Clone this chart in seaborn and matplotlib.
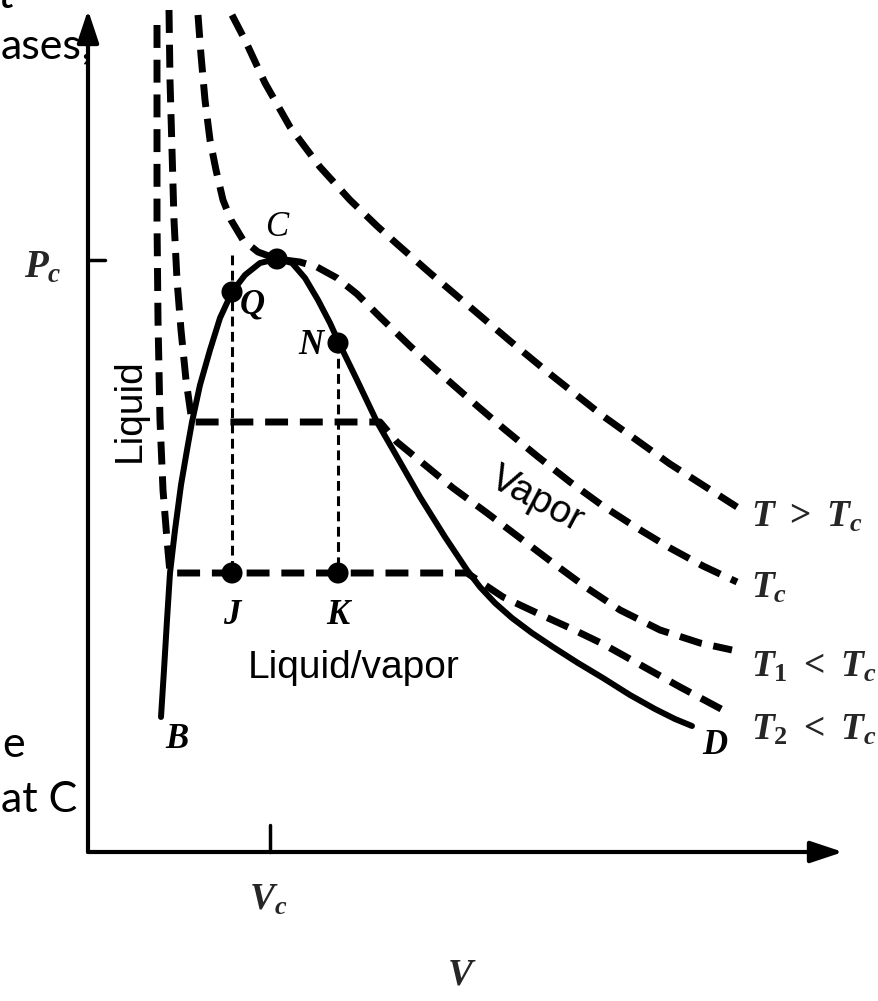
import pandas as pd
import matplotlib
matplotlib.use("Agg")
import matplotlib.pyplot as plt
import seaborn as sns

# P-V diagram, values (V to the right of the P axis, P above the V axis)
# saturation dome B -> C -> D
dome_v = [73, 76, 79, 82, 87, 93, 99, 104, 112, 122, 132, 144, 157, 172, 189,
          204, 217, 230, 242, 252, 269, 289, 312, 332, 357, 369, 379, 392, 407, 424,
          444, 465, 490, 515, 542, 567, 587, 604]
dome_p = [135, 182, 232, 279, 322, 367, 402, 430, 467, 502, 534, 560, 577, 589, 593,
          589, 574, 552, 529, 507, 472, 430, 390, 355, 315, 297, 282, 265, 249, 234,
          219, 205, 189, 174, 157, 143, 133, 126]

# isotherms
t_hot_v = [144, 157, 177, 202, 232, 262, 289, 309, 342, 382, 422, 462, 515, 582, 649]
t_hot_p = [837, 812, 769, 725, 685, 652, 626, 608, 579, 545, 511, 478, 436, 388, 345]

t_crit_v = [110, 113, 117, 122, 128, 135, 143, 155, 170, 189, 212, 229, 249, 269, 292,
            322, 355, 387, 415, 449, 482, 515, 549, 582, 615, 649]
t_crit_p = [837, 797, 752, 712, 682, 652, 632, 612, 600, 593, 590, 585, 574, 558, 535,
            506, 476, 448, 424, 396, 370, 346, 324, 304, 286, 270]

t1_v = [81, 82, 84, 86, 89, 93, 98, 104, 292, 309, 337, 365, 399, 432, 465, 499, 532, 572, 612, 644]
t1_p = [842, 772, 702, 632, 572, 522, 472, 430, 430, 410, 387, 364, 339, 314, 289, 264, 242, 222, 209, 202]

t2_v = [69, 69, 69, 70, 72, 75, 79, 82, 379, 415, 449, 482, 515, 549, 592, 635]
t2_p = [827, 732, 632, 532, 432, 362, 312, 279, 279, 255, 239, 224, 208, 189, 165, 142]

iso_labels = [r"$T\ >\ T_c$", r"$T_c$", r"$T_1\ <\ T_c$", r"$T_2\ <\ T_c$"]

# marked states
pt_names = ["C", "Q", "N", "J", "K"]
pt_v = [189, 144, 250, 144, 250]
pt_p = [593, 560, 509, 279, 279]

# critical point ticks
pc = 592
vc = 182

sns.set_theme(style="white")
plt.rcParams["font.family"] = ["Liberation Serif", "DejaVu Sans"]
plt.rcParams["mathtext.fontset"] = "custom"
plt.rcParams["mathtext.rm"] = "Liberation Serif:bold"
plt.rcParams["mathtext.it"] = "Liberation Serif:italic:bold"
plt.rcParams["mathtext.bf"] = "Liberation Serif:bold"

fig = plt.figure(figsize=(8.79, 10.01), dpi=100)
ax = fig.add_axes([0, 0, 1, 1])
ax.set_xlim(-88, 791)
ax.set_ylim(-149, 852)
ax.axis("off")

# slide text that was cut off at the left
side = dict(family=["Lato", "DejaVu Sans"], fontsize=31, color="black", va="baseline", zorder=1)
ax.text(-76, 844, "t", ha="right", **side)
ax.text(-87, 794, "ases;", ha="left", **side)
ax.text(-63, 95, "e", ha="right", **side)
ax.text(-87, 40, "at C", ha="left", **side)

# axes with arrows
arrow = dict(arrowstyle="-|>,head_length=0.9,head_width=0.3", lw=3, color="black",
             shrinkA=0, shrinkB=0, mutation_scale=22)
ax.annotate("", xy=(0, 842), xytext=(0, 0), arrowprops=arrow, zorder=3)
ax.annotate("", xy=(755, 0), xytext=(0, 0), arrowprops=arrow, zorder=3)
ax.plot([0, 17], [pc, pc], color="black", lw=2.5)
ax.plot([vc, vc], [0, 27], color="black", lw=2.5)

dash = (0, (3.3, 1.7))
curves = [(t_hot_v, t_hot_p), (t_crit_v, t_crit_p), (t1_v, t1_p), (t2_v, t2_p)]
for v, p in curves:
    df = pd.DataFrame({"V": v, "P": p})
    sns.lineplot(data=df, x="V", y="P", sort=False, estimator=None, color="black",
                 lw=5, linestyle=dash, ax=ax)

dome = pd.DataFrame({"V": dome_v, "P": dome_p})
sns.lineplot(data=dome, x="V", y="P", sort=False, estimator=None, color="black",
             lw=4.3, solid_capstyle="round", solid_joinstyle="round", ax=ax)

# thin guides: from the Pc level through Q down to J, and from N down to K
guide_top = [pc + 5, pt_p[2]]
for v, top, bottom in zip([pt_v[1], pt_v[2]], guide_top, [pt_p[3], pt_p[4]]):
    guide = pd.DataFrame({"V": [v, v], "P": [top, bottom]})
    sns.lineplot(data=guide, x="V", y="P", sort=False, estimator=None, color="black",
                 lw=2.2, linestyle=(0, (3.2, 1.8)), ax=ax)

pts = pd.DataFrame({"V": pt_v, "P": pt_p, "name": pt_names})
sns.scatterplot(data=pts, x="V", y="P", color="black", s=230, edgecolor="none", zorder=5, ax=ax)

# point letters
letter = dict(family="Liberation Serif", style="italic", weight="bold", fontsize=25,
              ha="center", va="center", color="black")
ax.text(189, 624, "C", **{**letter, "weight": "normal"})
ax.text(164, 547, "Q", **letter)
ax.text(223, 507, "N", **letter)
ax.text(144, 237, "J", **letter)
ax.text(250, 237, "K", **letter)
ax.text(89, 112, "B", **letter)
ax.text(627, 107, "D", **letter)

ax.text(-45, 584, r"$P_c$", fontsize=28, ha="center", va="center")
ax.text(180, -48, r"$V_c$", fontsize=27, ha="center", va="center")
ax.text(374, -123, r"$V$", fontsize=27, ha="center", va="center")

for lab, y in zip(iso_labels, [335, 264, 185, 122]):
    ax.text(663, y, lab, fontsize=27, ha="left", va="center")

region = dict(family=["Liberation Sans", "DejaVu Sans"], fontsize=28, color="black",
              ha="center", va="center")
ax.text(266, 184, "Liquid/vapor", **region)
ax.text(42, 442, "Liquid", rotation=90, **region)
ax.text(449, 352, "Vapor", rotation=-28, rotation_mode="anchor", **region)

fig.savefig("out.png", dpi=100, facecolor="white")
